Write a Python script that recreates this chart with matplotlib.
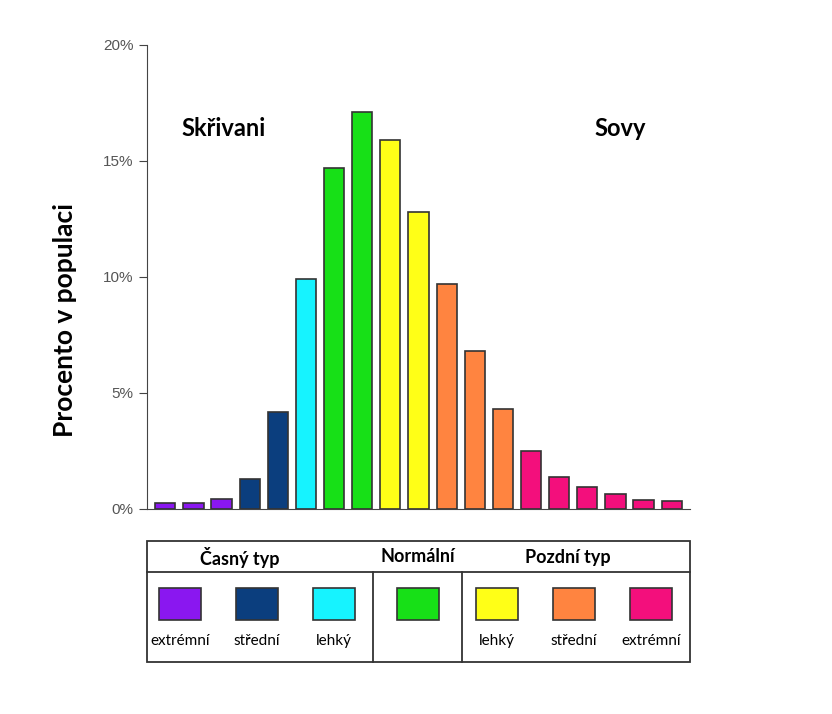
import matplotlib.pyplot as plt
from matplotlib.patches import Rectangle

# bar heights (%) left to right
values = [0.26, 0.26, 0.43, 1.3, 4.2, 9.9, 14.7, 17.1, 15.9, 12.8,
          9.7, 6.8, 4.3, 2.5, 1.4, 0.95, 0.65, 0.4, 0.35]
groups = ["purple"] * 3 + ["navy"] * 2 + ["cyan"] + ["green"] * 2 + \
         ["yellow"] * 2 + ["orange"] * 3 + ["magenta"] * 6
palette = {"purple": "#8a17f0", "navy": "#0b3e7e", "cyan": "#16f3ff",
           "green": "#17e017", "yellow": "#ffff17", "orange": "#ff8440",
           "magenta": "#f30f7c"}
yticks = [0, 5, 10, 15, 20]
ytick_labels = ["0%", "5%", "10%", "15%", "20%"]
legend_keys = ["purple", "navy", "cyan", "green", "yellow", "orange", "magenta"]
legend_labels = ["extrémní", "střední", "lehký", "", "lehký", "střední", "extrémní"]
headers = ["Časný typ", "Normální", "Pozdní typ"]

W, H = 832, 714
fig = plt.figure(figsize=(W / 100, H / 100), dpi=100)
ax = fig.add_axes([147 / W, 1 - 509 / H, (690 - 147) / W, (509 - 45) / H])

ax.bar(range(len(values)), values, width=0.72,
       color=[palette[g] for g in groups], edgecolor="#333333", linewidth=1.2)
ax.set_xlim(-0.65, len(values) - 0.35)
ax.set_ylim(0, 20)
ax.set_yticks(yticks)
ax.set_yticklabels(ytick_labels, fontsize=11, color="#555555", family="Liberation Sans")
ax.set_xticks([])
ax.tick_params(axis="y", direction="out", length=6, color="#444444")
for s in ["top", "right"]:
    ax.spines[s].set_visible(False)
for s in ["left", "bottom"]:
    ax.spines[s].set_color("#444444")

fig.text(65 / W, 1 - 320 / H, "Procento v populaci", rotation=90, fontsize=19,
         fontweight="bold", family="Lato", ha="center", va="center")
fig.text(224 / W, 1 - 128 / H, "Skřivani", fontsize=17, fontweight="bold",
         family="Lato", ha="center", va="center")
fig.text(620 / W, 1 - 128 / H, "Sovy", fontsize=17, fontweight="bold",
         family="Lato", ha="center", va="center")

# legend table drawn in pixel coordinates
lg = fig.add_axes([0, 0, 1, 1])
lg.set_xlim(0, W)
lg.set_ylim(H, 0)
lg.axis("off")
lg.add_patch(Rectangle((147, 541), 543, 121, fill=False, edgecolor="#333333", lw=1.3))
lg.plot([147, 690], [572, 572], color="#333333", lw=1.3)
lg.plot([373, 373], [572, 662], color="#333333", lw=1.3)
lg.plot([462, 462], [572, 662], color="#333333", lw=1.3)
for hx, h in zip([240, 418, 568], headers):
    lg.text(hx, 557, h, fontsize=13, fontweight="bold", family="Lato",
            ha="center", va="center")
for cx, k, lab in zip([180, 257, 334, 418, 497, 574, 651], legend_keys, legend_labels):
    lg.add_patch(Rectangle((cx - 21, 588), 42, 32, facecolor=palette[k],
                           edgecolor="#333333", lw=1.2))
    lg.text(cx, 641, lab, fontsize=11, family="Lato", ha="center", va="center")

fig.savefig("out.png", dpi=100)
